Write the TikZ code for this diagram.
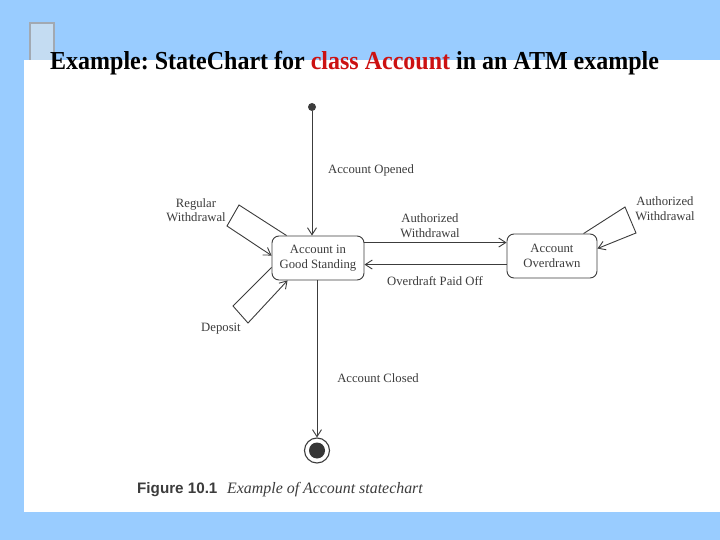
\documentclass[tikz,border=0pt]{standalone}
\usepackage{fontspec}
\setmainfont{Liberation Serif}
\newfontfamily\capsans{Liberation Sans}
\usetikzlibrary{arrows.meta,calc}
\definecolor{bgblue}{HTML}{99CCFF}
\definecolor{sqfill}{HTML}{C4DCF2}
\definecolor{sqline}{HTML}{A2A9B2}
\definecolor{ink}{HTML}{3C3C3C}
\definecolor{titlered}{HTML}{CC1111}
\tikzset{
  statebox/.style={draw=ink,line width=0.9pt,rounded corners=7pt,minimum width=92pt,minimum height=44pt,inner sep=0pt,align=center,font=\fontsize{12.7}{14.8}\selectfont,text=ink},
  lbl/.style={align=center,font=\fontsize{12.7}{14.5}\selectfont,text=ink,inner sep=0pt},
  arr/.style={draw=ink,line width=0.9pt,-{Straight Barb[length=7pt,width=9pt,line width=0.9pt]}},
}
\begin{document}
\frenchspacing
\begin{tikzpicture}[x=1pt,y=-1pt]
\useasboundingbox (0,0) rectangle (720,540);
\fill[bgblue] (0,0) rectangle (720,540);
\filldraw[fill=sqfill,draw=sqline,line width=1.2pt] (30,23) rectangle (54,64);
\fill[white] (24,60) rectangle (720,512);
% title
\node[anchor=base west,inner sep=0pt,yscale=1.08,transform shape,font=\fontsize{24}{26}\selectfont\bfseries] (title) at (50,69.5)
  {Example: StateChart for \textcolor{titlered}{class Account} in an ATM example};
% states
\node[circle,fill=ink,minimum size=8pt,inner sep=0pt] (init) at (312,107) {};
\node[statebox] (good) at (318,258) {Account in\\Good Standing};
\node[statebox,minimum width=90pt] (over) at (552,256) {Account\\Overdrawn};
\node[circle,draw=ink,line width=1.1pt,minimum size=25pt,inner sep=0pt] (fin) at (317,450.5) {};
\fill[ink!90!black] (fin) circle (8);
% loop corners
\coordinate (rw1) at (239,205);
\coordinate (rw2) at (227,226);
\coordinate (dp1) at (233,306);
\coordinate (dp2) at (248,323);
\coordinate (aw1) at (625,207);
\coordinate (aw2) at (636,233);
% connectors
\draw[arr] (init) -- (init |- good.north);
\draw[arr] (good.south -| fin) -- (fin);
\draw[arr] ([yshift=-7pt]good.north east) -- ([yshift=-7pt]good.north east -| over.west);
\draw[arr] ([yshift=-29pt]good.north east -| over.west) -- ([yshift=-29pt]good.north east);
\draw[arr] ([xshift=15pt]good.north west) -- (rw1) -- (rw2) -- ([yshift=-20pt]good.north west);
\draw[arr] ([yshift=-32pt]good.north west) -- (dp1) -- (dp2) -- ([xshift=16pt]good.south west);
\draw[arr] ([xshift=77pt]over.north west) -- (aw1) -- (aw2) -- ([yshift=-15pt]over.north east);
% labels
\node[lbl] (lopen) at (371,170.5) {Account Opened};
\node[lbl] (lclose) at (378,378.5) {Account Closed};
\node[lbl] (lauth) at (430,225.5) {Authorized\\Withdrawal};
\node[lbl] (lpaid) at (435,281.5) {Overdraft Paid Off};
\node[lbl] (lreg) at (196,210) {Regular\\Withdrawal};
\node[lbl] (ldep) at (221,328.5) {Deposit};
\node[lbl] (lauth2) at (665,208.5) {Authorized\\Withdrawal};
% caption
\node[anchor=base west,inner sep=0pt,font=\capsans\bfseries\fontsize{15.2}{17}\selectfont,text=ink] (fig) at (137,493) {Figure 10.1};
\node[anchor=base west,inner sep=0pt,font=\itshape\fontsize{15.9}{17}\selectfont,text=ink] (cap) at (227,493) {Example of Account statechart};
\end{tikzpicture}
\end{document}
